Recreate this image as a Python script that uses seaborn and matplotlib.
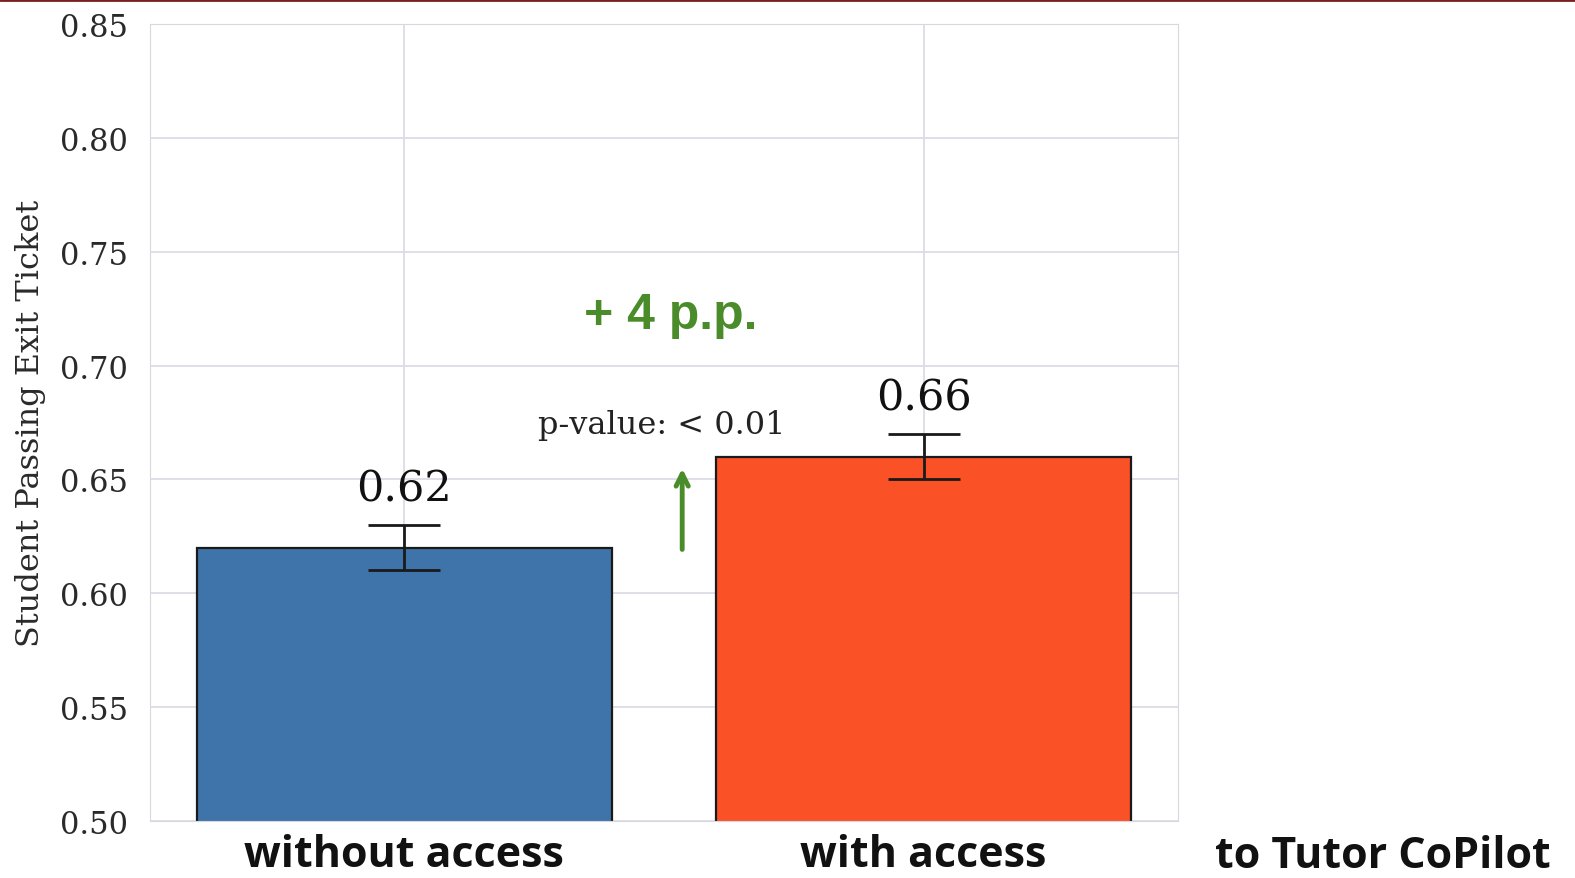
import matplotlib
matplotlib.use('Agg')
import matplotlib.pyplot as plt
import seaborn as sns
import pandas as pd
from matplotlib.lines import Line2D

groups = ['without access', 'with access']
pass_rate = [0.62, 0.66]
err = [0.01, 0.01]
extra_label = 'to Tutor CoPilot'
diff_text = '+ 4 p.p.'
pval_text = 'p-value: < 0.01'

bar_colors = ['#3f74aa', '#fb5127']
green = '#4a8c2a'

sns.set_style('whitegrid', {'grid.color': '#dcdce8', 'axes.edgecolor': '#d8d8e0'})

df = pd.DataFrame({'group': groups, 'rate': pass_rate})

fig = plt.figure(figsize=(15.75, 8.79), dpi=100)
ax = fig.add_axes([0.0952, 0.065, 0.6528, 0.9065])

sns.barplot(data=df, x='group', y='rate', hue='group', palette=bar_colors,
            width=0.8, edgecolor='#1a1a1a', linewidth=1.6, saturation=1,
            legend=False, errorbar=None, ax=ax)
ax.errorbar(range(len(groups)), pass_rate, yerr=err, fmt='none',
            ecolor='#1a1a1a', elinewidth=2, capsize=26, capthick=2, zorder=5)

for i, v in enumerate(pass_rate):
    ax.text(i, v + err[i] + 0.016, f'{v:.2f}', ha='center', va='center',
            family='DejaVu Serif', fontsize=31, color='#111111')

ax.set_ylim(0.50, 0.85)
ax.set_xlim(-0.49, 1.49)
ax.set_yticks([0.50, 0.55, 0.60, 0.65, 0.70, 0.75, 0.80, 0.85])
ax.set_yticklabels([f'{t:.2f}' for t in ax.get_yticks()], family='DejaVu Serif',
                   fontsize=22, color='#2a2a2a')
ax.set_ylabel('Student Passing Exit Ticket', family='DejaVu Serif', fontsize=23,
              color='#2a2a2a', labelpad=10)
ax.set_xlabel('')
ax.set_xticks(range(len(groups)))
ax.set_xticklabels(groups, family='Open Sans', fontweight='bold', fontsize=31,
                   color='#111111')
ax.tick_params(axis='x', pad=9, length=0)
ax.tick_params(axis='y', length=0, pad=16)
ax.grid(True, axis='both', color='#dcdce8', linewidth=1.3)
ax.set_axisbelow(True)

# improvement annotation
ax.annotate('', xy=(0.535, 0.656), xytext=(0.535, 0.618),
            arrowprops=dict(arrowstyle='->', color=green, lw=3.5,
                            mutation_scale=22))
ax.text(0.513, 0.722, diff_text, ha='center', va='center', family='Liberation Sans',
        fontweight='bold', fontsize=36, color=green)
ax.text(0.495, 0.674, pval_text, ha='center', va='center', family='DejaVu Serif',
        fontsize=23, color='#222222')

fig.text(0.878, 0.026, extra_label, ha='center', va='center', family='Open Sans',
         fontweight='bold', fontsize=31, color='#111111')
fig.add_artist(Line2D([0, 1], [0.999, 0.999], color='#7a1f1f', lw=2,
                      transform=fig.transFigure))

fig.savefig('out.png', dpi=100, facecolor='white')
